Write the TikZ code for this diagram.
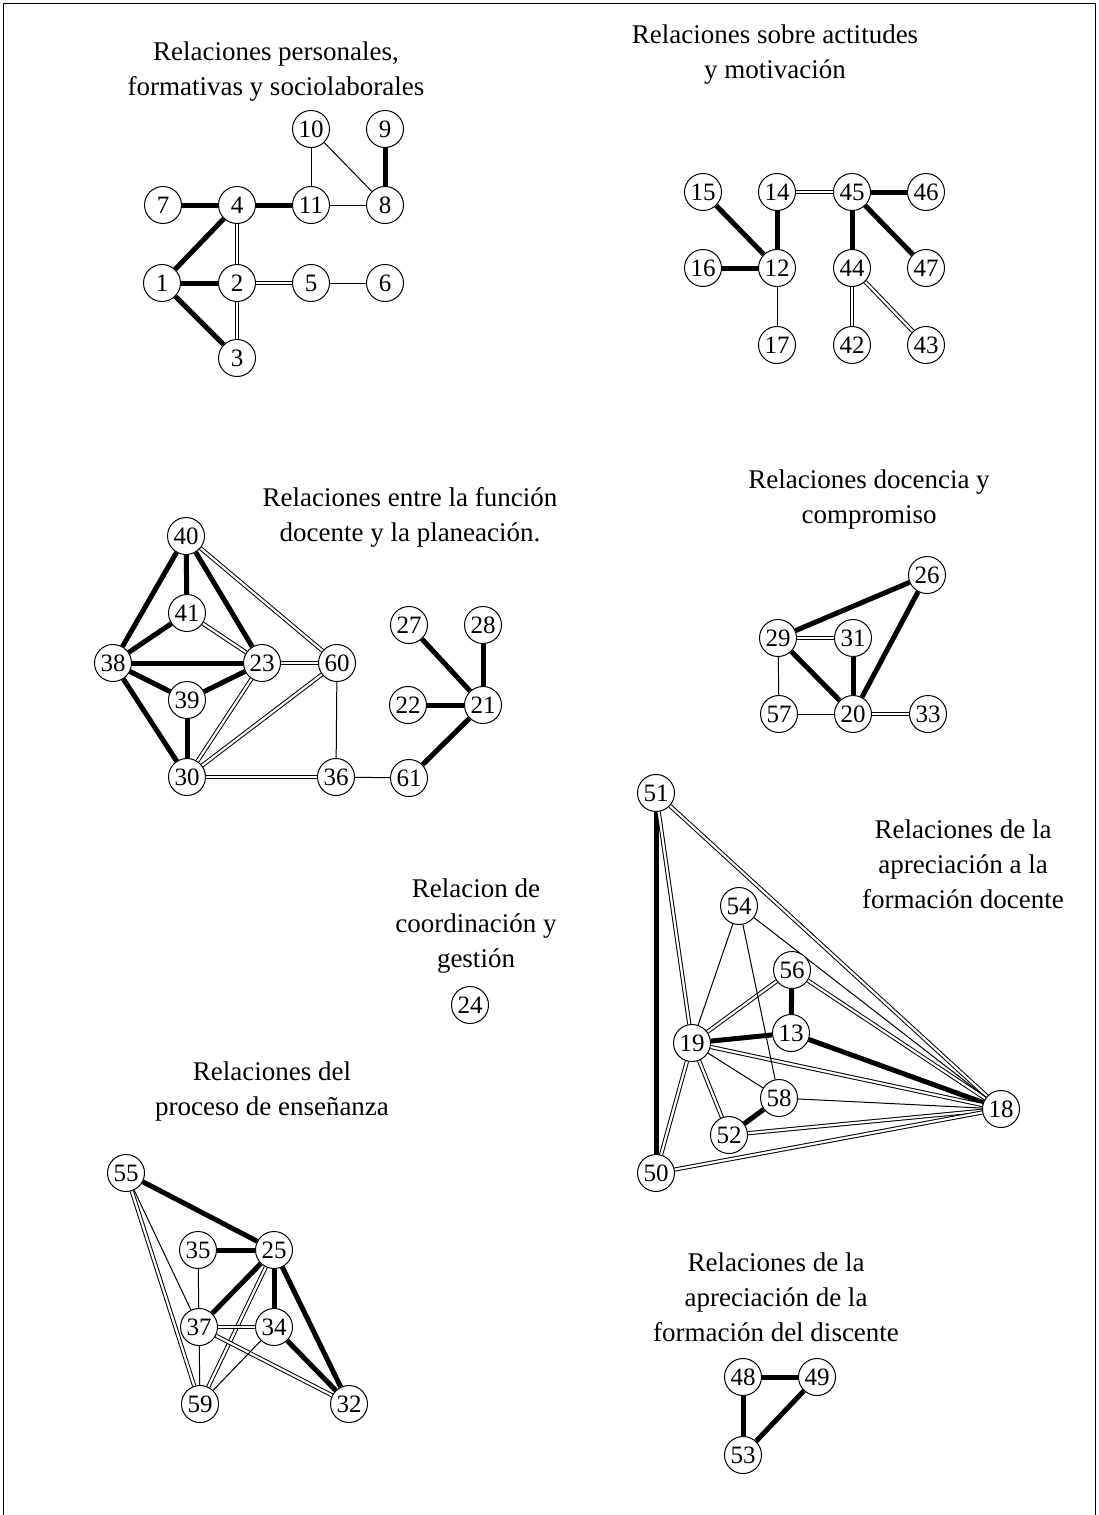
\documentclass[tikz,border=0pt]{standalone}
\usepackage{fontspec}
\setmainfont{Liberation Serif}
\usetikzlibrary{backgrounds}
\tikzset{
  every picture/.style={font=\fontsize{27}{35}\selectfont, line width=1pt},
  nd/.style={draw, circle, fill=white, minimum size=37pt, inner sep=0pt, font=\fontsize{25}{25}\selectfont},
  fuerte/.style={line width=5pt},
  debil/.style={line width=1pt},
  doble/.style={double, line width=1pt, double distance=2.2pt},
  title/.style={align=center, font=\fontsize{27}{35}\selectfont},
}

\begin{document}
\begin{tikzpicture}[x=1pt, y=-1pt]
  \useasboundingbox (0,0) rectangle (1098,1515);
  \draw (3,1515) -- (3,3) -- (1095,3) -- (1095,1515);
  % nodes: number/x/y
  \foreach \n/\x/\y in {1/162/283, 2/237/283, 3/237/358, 4/237/205, 5/311/283, 6/385/283,
      7/163/205, 8/385/205, 9/385/129, 10/311/129, 11/311/205,
      12/777/268, 14/777/192, 15/703/192, 16/703/268, 17/777/345, 42/852/345, 43/926/345,
      44/852/268, 45/852/192, 46/926/192, 47/926/268,
      40/186/536, 41/187/613, 38/113/663, 23/262/663, 60/337/663, 39/187/700, 30/187/777,
      36/336/777, 61/409/778, 21/483/705, 22/408/705, 27/409/625, 28/483/625,
      26/927/575, 29/778/638, 31/853/638, 57/779/714, 20/853/714, 33/928/714,
      51/656/793, 54/739/906, 56/792/970, 13/791/1033, 19/692/1043, 58/779/1098,
      52/729/1135, 50/656/1173, 18/1001/1109,
      24/470/1005,
      55/126/1173, 35/198/1250, 25/274/1250, 37/199/1327, 34/274/1327, 59/200/1404, 32/349/1404,
      48/743/1377, 49/817/1377, 53/743/1455}
    \node[nd] (n\n) at (\x,\y) {\n};
  % links
  \begin{scope}[on background layer]
    \foreach \a/\b in {7/4, 4/11, 9/8, 4/1, 1/2, 1/3, 15/12, 16/12, 14/12, 45/46, 45/44, 45/47,
        40/38, 40/41, 40/23, 41/38, 38/23, 38/39, 39/23, 38/30, 39/30, 61/21, 22/21, 27/21, 28/21,
        29/26, 26/20, 31/20, 29/20, 51/50, 56/13, 19/13, 13/18, 58/52,
        55/25, 35/25, 25/37, 25/34, 25/32, 34/32, 48/49, 48/53, 49/53}
      \draw[fuerte] (n\a) -- (n\b);
    \foreach \a/\b in {4/2, 2/5, 2/3, 14/45, 44/42, 44/43,
        40/60, 41/23, 23/60, 23/30, 60/30, 30/36, 29/31, 20/33,
        51/19, 51/18, 56/19, 56/18, 19/18, 19/52, 19/50, 52/18, 50/18,
        55/59, 25/59, 37/34, 37/32}
      \draw[doble] (n\a) -- (n\b);
    \foreach \a/\b in {11/8, 10/11, 10/8, 5/6, 12/17, 60/36, 36/61, 29/57, 57/20,
        54/19, 54/58, 54/18, 19/58, 58/18, 55/37, 35/37, 37/59, 34/59}
      \draw[debil] (n\a) -- (n\b);
  \end{scope}
  % titles
  \node[title] (t1) at (276,72) {Relaciones personales,\\formativas y sociolaborales};
  \node[title] (t2) at (775,55) {Relaciones sobre actitudes\\y motivación};
  \node[title] (t3) at (410,517) {Relaciones entre la función\\docente y la planeación.};
  \node[title] (t4) at (869,500) {Relaciones docencia y\\compromiso};
  \node[title] (t5) at (963,864) {Relaciones de la\\apreciación a la\\formación docente};
  \node[title] (t6) at (476,926) {Relacion de\\coordinación y\\gestión};
  \node[title] (t7) at (272,1091) {Relaciones del\\proceso de enseñanza};
  \node[title] (t8) at (776,1297) {Relaciones de la\\apreciación de la\\formación del discente};
\end{tikzpicture}
\end{document}
